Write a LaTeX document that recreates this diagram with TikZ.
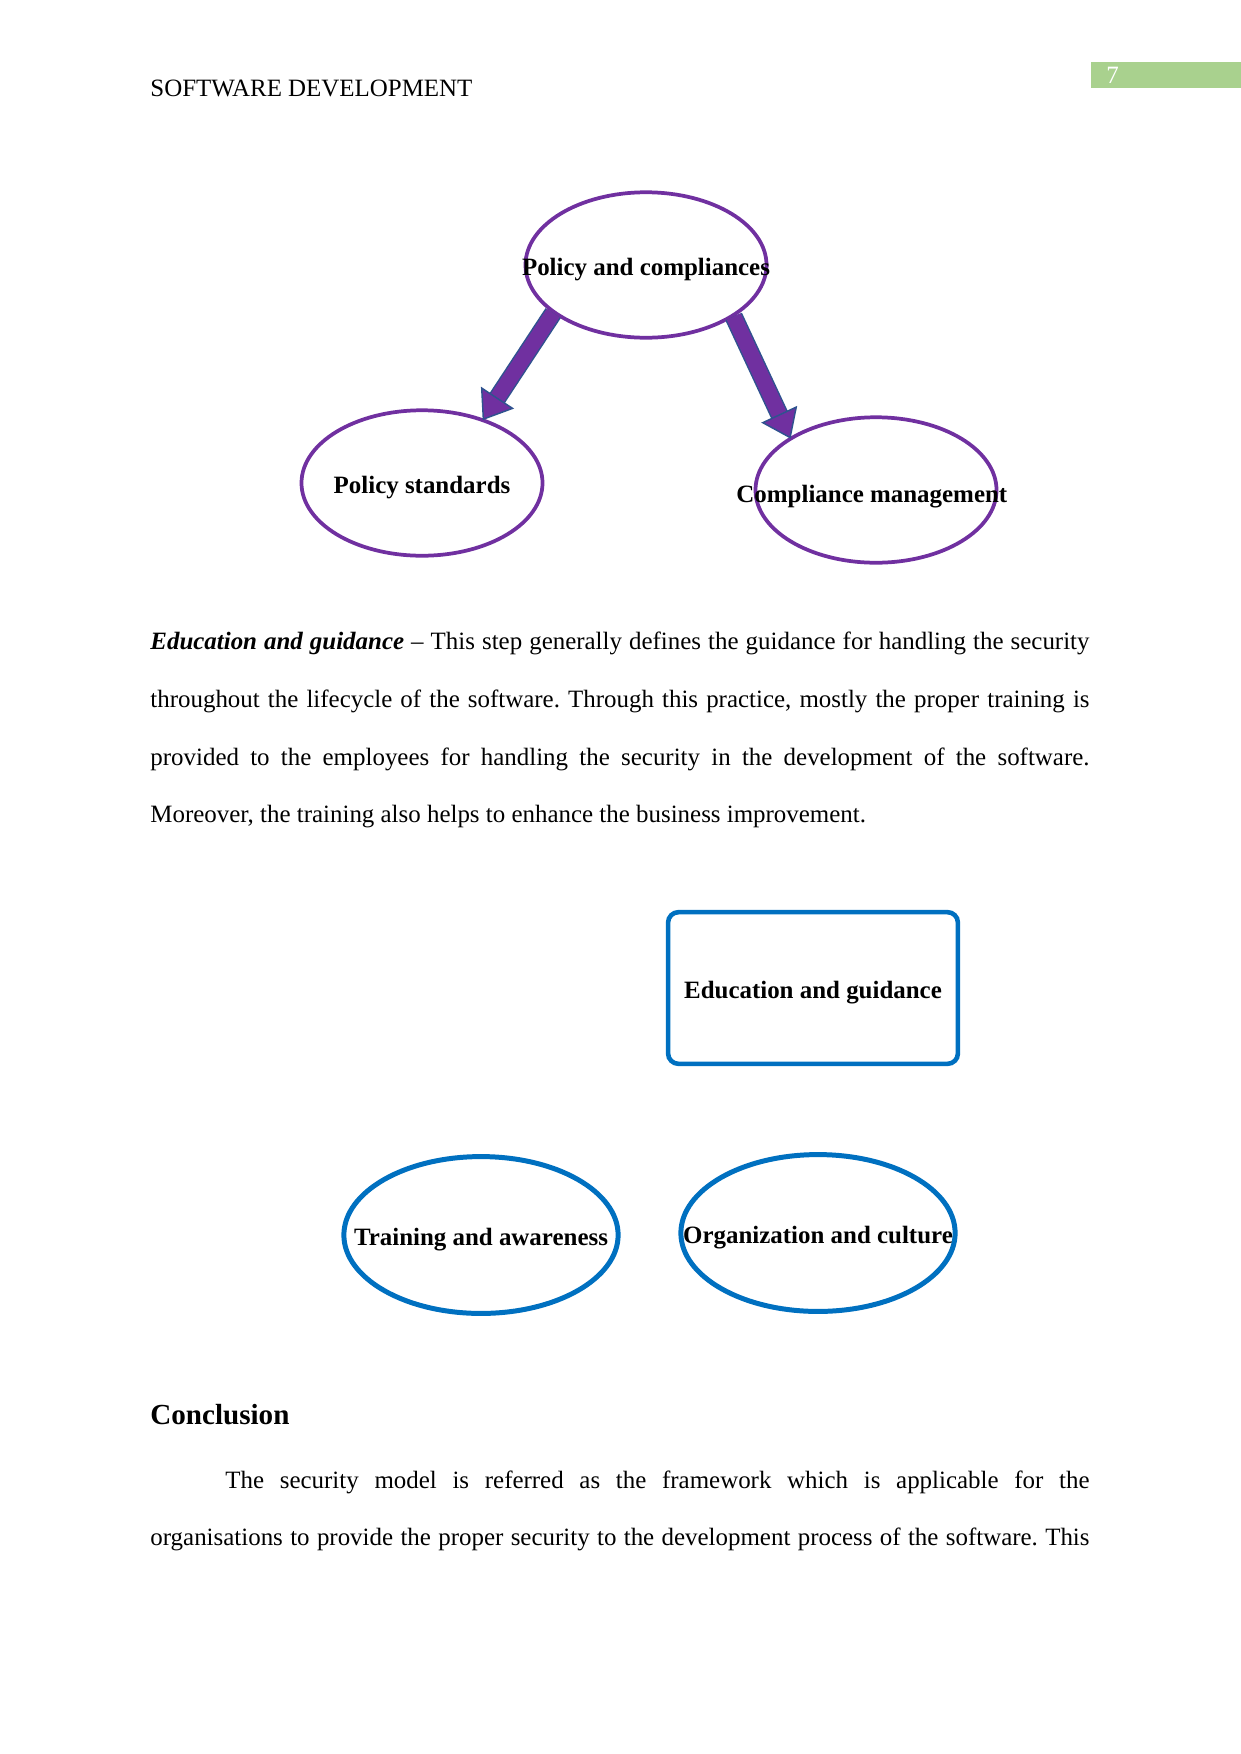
\documentclass[tikz,border=0pt]{standalone}
\usepackage{fontspec}
\setmainfont{Liberation Serif}
\usepackage{xcolor}
\usetikzlibrary{arrows.meta, positioning, shapes.geometric}

\definecolor{policypurple}{RGB}{112,48,160}
\definecolor{arrowedge}{RGB}{47,82,143}
\definecolor{edublue}{RGB}{0,112,192}
\definecolor{pagegreen}{RGB}{169,209,142}

\frenchspacing

\begin{document}
\begin{tikzpicture}[
  x=0.48131pt, y=-0.48131pt,
  txt/.style={inner sep=0pt, anchor=base west, font=\fontsize{12}{14}\selectfont},
  lbl/.style={inner sep=0pt, yshift=-2.2pt, font=\fontsize{12}{14}\selectfont\bfseries},
  pell/.style={draw=policypurple, line width=1.8pt, ellipse, minimum width=116pt, minimum height=70pt, inner sep=0pt, outer sep=0pt},
  bell/.style={draw=edublue, line width=2.4pt, ellipse, minimum width=132pt, minimum height=75.5pt, inner sep=0pt, outer sep=0pt},
  ebox/.style={draw=edublue, line width=2.2pt, rounded corners=5pt, minimum width=139.5pt, minimum height=73pt, inner sep=0pt, font=\fontsize{12}{14}\selectfont\bfseries},
  blockarr/.style={draw=policypurple, line width=7.4pt, shorten <=0.7pt,
    -{Triangle[width=19pt 0 0, length=13pt 0 0, line width=0.7pt 0 0, color=arrowedge, fill=policypurple]},
    preaction={draw=arrowedge, line width=8.8pt, shorten >=11pt, -}}
]
  \useasboundingbox (0,0) rectangle (1241,1754);

  % page header
  \node[txt] (head) at (150,96) {SOFTWARE DEVELOPMENT};
  \node[fill=pagegreen, anchor=north west, minimum width=72.2pt, minimum height=12.5pt, inner sep=0pt] (pagebox) at (1091,62) {};
  \node[txt, text=white] (pnum) at (1106,83) {7};

  % policy diagram
  \node[pell, label={[lbl]center:Policy and compliances}] (pc) at (646,265) {};
  \node[pell, label={[lbl]center:Policy standards}] (ps) at (422,483) {};
  \node[pell, label={[lbl, xshift=-2pt, yshift=-0.8pt]center:Compliance management}] (cm) at (876,490) {};

  \draw[blockarr] (pc.207) -- (ps.46);
  \draw[blockarr] (pc.330) -- (cm.149);

  % text block
  \node[txt] (e1) at (150,649) {\makebox[452pt][s]{\textbf{\textit{Education and guidance}} -- This step generally defines the guidance for handling the security}};
  \node[txt] (e2) at (150,707) {\makebox[452pt][s]{throughout the lifecycle of the software. Through this practice, mostly the proper training is}};
  \node[txt] (e3) at (150,765) {\makebox[452pt][s]{provided to the employees for handling the security in the development of the software.}};
  \node[txt] (e4) at (150,822) {Moreover, the training also helps to enhance the business improvement.};

  % education diagram
  \node[ebox, text depth=0pt, yshift=0pt] (edu) at (813,988) {\raisebox{-2pt}{Education and guidance}};
  \node[bell, label={[lbl]center:Training and awareness}] (train) at (481,1235) {};
  \node[bell, label={[lbl]center:Organization and culture}] (org) at (818,1233) {};

  % conclusion
  \node[txt, font=\fontsize{14}{16}\selectfont\bfseries] (conc) at (150,1424) {Conclusion};
  \node[txt] (c1) at (225,1488) {\makebox[415.9pt][s]{The security model is referred as the framework which is applicable for the}};
  \node[txt] (c2) at (150,1545) {\makebox[452pt][s]{organisations to provide the proper security to the development process of the software. This}};
\end{tikzpicture}
\end{document}
